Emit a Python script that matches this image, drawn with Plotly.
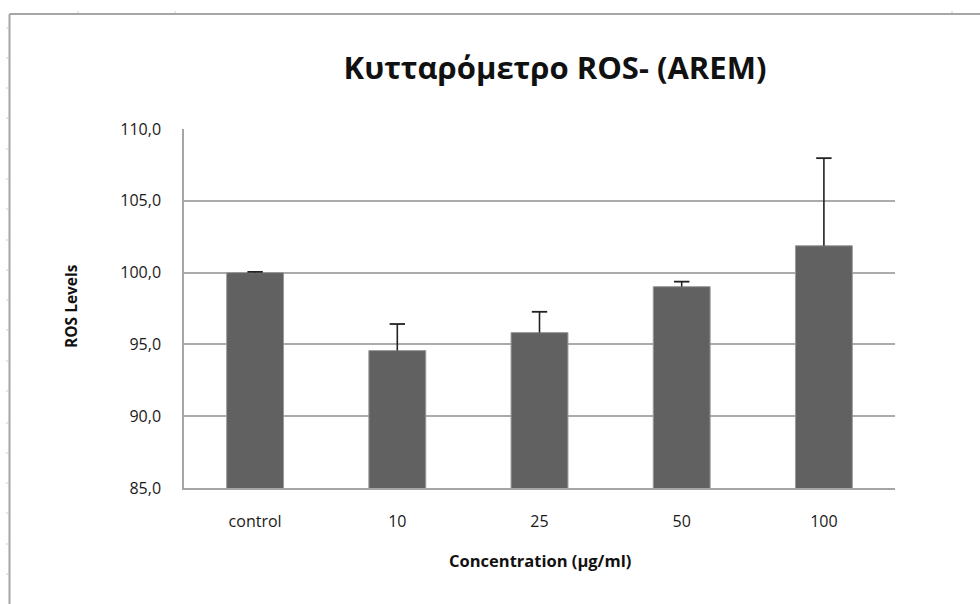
import plotly.graph_objects as go

# ROS levels by concentration (mean and upper error)
categories = ["control", "10", "25", "50", "100"]
ros_levels = [100.0, 94.57, 95.82, 99.02, 101.87]
ros_error = [0.05, 1.85, 1.45, 0.35, 6.1]

title_text = "Κυτταρόμετρο ROS- (AREM)"
x_title = "Concentration (μg/ml)"
y_title = "ROS Levels"

W, H = 980, 604
PL, PR, PT, PB = 184, 895, 129, 488  # plot area in pixels


def px(x):
    return (x - PL) / (PR - PL)


def py(y):
    return (PB - y) / (PB - PT)


FONT = "Open Sans"
ERR_COLOR = "#222222"

fig = go.Figure()
fig.add_trace(
    go.Bar(
        x=categories,
        y=ros_levels,
        width=0.4,
        marker=dict(color="#616161", line=dict(color="#9a9a9a", width=1)),
        hoverinfo="x+y",
    )
)

# upper-only error bars: stem from the bar top to mean + error, capped at the top
stem_x, stem_y = [], []
for c, v, e in zip(categories, ros_levels, ros_error):
    stem_x += [c, c, None]
    stem_y += [v, v + e, None]
fig.add_trace(
    go.Scatter(
        x=stem_x, y=stem_y, mode="lines",
        line=dict(color=ERR_COLOR, width=1.6),
        hoverinfo="skip",
    )
)
fig.add_trace(
    go.Scatter(
        x=categories,
        y=[v + e for v, e in zip(ros_levels, ros_error)],
        mode="markers",
        marker=dict(symbol="line-ew", size=11, line=dict(color=ERR_COLOR, width=1.8)),
        hoverinfo="skip",
    )
)

shapes = [
    # chart frame
    dict(type="line", xref="paper", yref="paper", x0=px(9.5), x1=px(980), y0=py(14), y1=py(14),
         line=dict(color="#a5a5a5", width=2)),
    dict(type="line", xref="paper", yref="paper", x0=px(9.5), x1=px(9.5), y0=py(14), y1=py(604),
         line=dict(color="#a5a5a5", width=2)),
]
# sheet grid stubs peeking past the frame
for yy in [28, 58, 88, 118, 149, 179, 209, 240, 270, 300, 330, 361, 391, 423, 453, 483, 513, 544, 574]:
    shapes.append(dict(type="line", xref="paper", yref="paper", x0=px(6), x1=px(8.5), y0=py(yy), y1=py(yy),
                       line=dict(color="#c9cdd8", width=1)))
for xx in [78, 175, 952]:
    shapes.append(dict(type="line", xref="paper", yref="paper", x0=px(xx), x1=px(xx), y0=py(11), y1=py(13),
                       line=dict(color="#c9cdd8", width=1)))

fig.update_layout(
    width=W,
    height=H,
    margin=dict(l=PL, r=W - PR, t=PT, b=H - PB, pad=0),
    paper_bgcolor="white",
    plot_bgcolor="white",
    separators=",.",
    showlegend=False,
    font=dict(family=FONT, color="#1e1e1e"),
    title=dict(
        text="<b>" + title_text + "</b>",
        xref="container", yref="container",
        x=555 / W, y=1 - 68 / H,
        xanchor="center", yanchor="middle",
        font=dict(family=FONT, size=31, color="#111111"),
    ),
    xaxis=dict(
        showgrid=False,
        showline=True,
        linecolor="#a5a5a5",
        linewidth=1.5,
        ticks="",
        tickfont=dict(size=16, color="#1a1a1a"),
        ticklabelstandoff=18,
    ),
    yaxis=dict(
        range=[85, 110],
        dtick=5,
        tick0=85,
        tickformat=".1f",
        showgrid=True,
        gridcolor="#ababab",
        gridwidth=1.5,
        showline=True,
        linecolor="#a5a5a5",
        linewidth=1.5,
        zeroline=False,
        ticks="",
        tickfont=dict(size=16, color="#1a1a1a"),
        ticklabelstandoff=18,
    ),
    shapes=shapes,
    annotations=[
        dict(text="<b>" + x_title + "</b>", xref="paper", yref="paper", x=px(540), y=py(560),
             showarrow=False, xanchor="center", yanchor="middle",
             font=dict(family=FONT, size=16.5, color="#111111")),
        dict(text="<b>" + y_title + "</b>", xref="paper", yref="paper", x=px(71), y=py(306),
             showarrow=False, xanchor="center", yanchor="middle", textangle=-90,
             font=dict(family=FONT, size=15.5, color="#111111")),
    ],
)

fig.write_html("out.html")
